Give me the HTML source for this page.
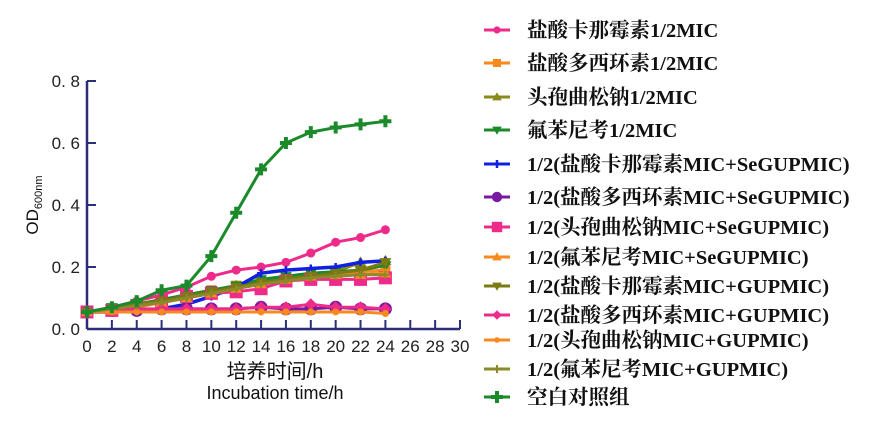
<!DOCTYPE html>
<html><head><meta charset="utf-8"><style>
body{margin:0;background:#fff}
svg text{font-family:"Liberation Sans","Noto Sans CJK SC",sans-serif}
.lg{font-family:"Liberation Serif","Noto Serif CJK SC",serif;font-weight:bold;font-size:20.5px;fill:#111}
</style></head><body>
<svg id="c" width="886" height="425" viewBox="0 0 886 425"></svg>
<script>
const hours=[0,2,4,6,8,10,12,14,16,18,20,22,24];
const xTicks=[0,2,4,6,8,10,12,14,16,18,20,22,24,26,28,30];
const yTicks=[0,0.2,0.4,0.6,0.8];
const names=["盐酸卡那霉素1/2MIC","盐酸多西环素1/2MIC","头孢曲松钠1/2MIC","氟苯尼考1/2MIC","1/2(盐酸卡那霉素MIC+SeGUPMIC)","1/2(盐酸多西环素MIC+SeGUPMIC)","1/2(头孢曲松钠MIC+SeGUPMIC)","1/2(氟苯尼考MIC+SeGUPMIC)","1/2(盐酸卡那霉素MIC+GUPMIC)","1/2(盐酸多西环素MIC+GUPMIC)","1/2(头孢曲松钠MIC+GUPMIC)","1/2(氟苯尼考MIC+GUPMIC)","空白对照组"];
const s0=[.055,.07,.09,.11,.135,.17,.19,.20,.215,.245,.28,.295,.32];
const s1=[.055,.065,.08,.095,.11,.125,.14,.15,.165,.175,.18,.185,.19];
const s2=[.055,.07,.08,.09,.105,.12,.14,.155,.165,.175,.185,.215,.22];
const s3=[.055,.07,.08,.095,.11,.125,.14,.16,.17,.18,.185,.19,.205];
const s4=[.055,.055,.06,.065,.08,.105,.135,.18,.19,.195,.2,.215,.22];
const s5=[.055,.06,.06,.065,.065,.065,.065,.07,.065,.065,.07,.065,.065];
const s6=[.055,.06,.075,.09,.105,.115,.12,.13,.155,.16,.16,.16,.165];
const s7=[.055,.06,.07,.085,.1,.115,.13,.145,.16,.17,.175,.175,.18];
const s8=[.055,.065,.08,.09,.105,.12,.135,.15,.16,.17,.18,.19,.215];
const s9=[.055,.06,.065,.065,.065,.065,.065,.07,.07,.08,.07,.07,.065];
const s10=[.055,.055,.055,.055,.055,.055,.055,.055,.055,.055,.055,.055,.05];
const s11=[.055,.065,.075,.085,.1,.115,.13,.145,.155,.165,.17,.175,.175];
const s12=[.055,.07,.09,.125,.14,.235,.375,.515,.6,.635,.65,.66,.67];
const series=[s0,s1,s2,s3,s4,s5,s6,s7,s8,s9,s10,s11,s12];
const colors=["#ee2a8a","#f7891f","#8a8a1a","#1a8a2a","#1020e0","#7a1aa0","#ee2a8a","#f7891f","#7a7a10","#ee2a8a","#f7891f","#8a8a2a","#1a8a2a"];
const shapes=["circle","square","tri","tridown","plus","bigcircle","bigsquare","tri","tridown","diamond","smallcircle","star","cross"];
const legendY=[30,63,97,130,164,197,227,257,286,315,340,369,397];
const X=v=>87+v*(460-87)/30, Y=v=>329-v*310;
const svg=document.getElementById('c'),NS="http://www.w3.org/2000/svg";
function mk(t,a,p){const e=document.createElementNS(NS,t);for(const k in a)e.setAttribute(k,a[k]);(p||svg).appendChild(e);return e;}
const ax="#2b2f7a";
let e=mk('line',{x1:X(0),y1:Y(0),x2:X(30),y2:Y(0),stroke:ax,'stroke-width':2.5});

e=mk('line',{x1:X(0),y1:Y(0),x2:X(0),y2:Y(0.8),stroke:ax,'stroke-width':2.5});

xTicks.forEach(t=>{mk('line',{x1:X(t),y1:Y(0),x2:X(t),y2:Y(0)-9,stroke:ax,'stroke-width':2});
 const tx=mk('text',{x:X(t),y:352,'text-anchor':'middle','font-size':17,fill:'#222'});tx.textContent=t;
 });
yTicks.forEach(t=>{mk('line',{x1:X(0),y1:Y(t),x2:X(0)+9,y2:Y(t),stroke:ax,'stroke-width':2});
 const tx=mk('text',{x:80,y:Y(t)+6,'text-anchor':'end','font-size':17,fill:'#222'});tx.textContent=t.toFixed(1).replace('.','. ');
 });
let t1=mk('text',{x:275,y:378,'text-anchor':'middle','font-size':20,fill:'#111'});t1.textContent='培养时间/h';

let t2=mk('text',{x:275,y:399,'text-anchor':'middle','font-size':18,fill:'#111','font-family':'Liberation Mono,monospace'});t2.textContent='Incubation time/h';

let t3=mk('text',{transform:'translate(38,205) rotate(-90)','text-anchor':'middle','font-size':17,fill:'#111','font-family':'Liberation Mono,monospace'});t3.innerHTML='OD<tspan font-size="11" dy="4">600nm</tspan>';

function marker(g,s,x,y,c,sc){sc=sc||1;let r;
 if(s=='circle')r=mk('circle',{cx:x,cy:y,r:4.5*sc,fill:c},g);
 else if(s=='bigcircle')r=mk('circle',{cx:x,cy:y,r:6.5*sc,fill:c},g);
 else if(s=='smallcircle')r=mk('circle',{cx:x,cy:y,r:3.5*sc,fill:c},g);
 else if(s=='square'){const d=5*sc;r=mk('rect',{x:x-d,y:y-d,width:2*d,height:2*d,fill:c},g);}
 else if(s=='bigsquare'){const d=6.5*sc;r=mk('rect',{x:x-d,y:y-d,width:2*d,height:2*d,fill:c},g);}
 else if(s=='tri'){const d=6*sc;r=mk('polygon',{points:`${x},${y-d} ${x-d},${y+d*.7} ${x+d},${y+d*.7}`,fill:c},g);}
 else if(s=='tridown'){const d=6*sc;r=mk('polygon',{points:`${x},${y+d} ${x-d},${y-d*.7} ${x+d},${y-d*.7}`,fill:c},g);}
 else if(s=='diamond'){const d=6*sc;r=mk('polygon',{points:`${x},${y-d} ${x+d},${y} ${x},${y+d} ${x-d},${y}`,fill:c},g);}
 else if(s=='plus'){r=mk('path',{d:`M${x-4} ${y}H${x+4}M${x} ${y-4}V${y+4}`,stroke:c,'stroke-width':2.5},g);}
 else if(s=='star'){r=mk('path',{d:`M${x-4} ${y}H${x+4}M${x} ${y-4}V${y+4}`,stroke:c,'stroke-width':2},g);}
 else {r=mk('path',{d:`M${x-6} ${y}H${x+6}M${x} ${y-6}V${y+6}`,stroke:c,'stroke-width':4},g);}
 return r;}
series.forEach((d,i)=>{const g=mk('g',{});
 
 const pl=mk('polyline',{points:d.map((v,j)=>X(hours[j])+','+Y(v)).join(' '),fill:'none',stroke:colors[i],'stroke-width':i==4?3.5:3},g);
 
 d.forEach((v,j)=>{const m=marker(g,shapes[i],X(hours[j]),Y(v),colors[i]);
  });
 const lg=mk('g',{});
 
 const ly=legendY[i];
 mk('line',{x1:484,y1:ly,x2:510,y2:ly,stroke:colors[i],'stroke-width':3},lg);
 marker(lg,shapes[i],497,ly,colors[i],0.8);
 const tt=mk('text',{x:527,y:ly+7,class:'lg'},lg);tt.textContent=names[i];
});
</script>
</body></html>
